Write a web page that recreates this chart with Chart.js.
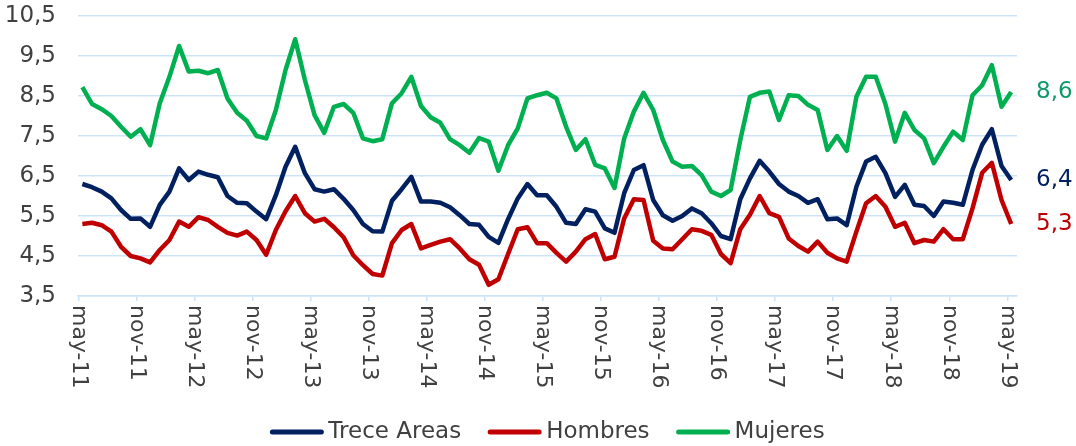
<!DOCTYPE html>
<html>
<head>
<meta charset="utf-8">
<script src="https://cdn.jsdelivr.net/npm/chart.js@4.4.1/dist/chart.umd.min.js"></script>
<style>
  html, body { margin: 0; padding: 0; background: #fff; }
</style>
</head>
<body>
<canvas id="chart" width="1076" height="446"></canvas>
<script>
// tasa de desempleo mensual, may-11 a may-19
var tickLabels = ["may-11", "nov-11", "may-12", "nov-12", "may-13", "nov-13", "may-14", "nov-14",
  "may-15", "nov-15", "may-16", "nov-16", "may-17", "nov-17", "may-18", "nov-18", "may-19"];

var treceAreas = [
  6.30, 6.22, 6.11, 5.94, 5.65, 5.43, 5.44, 5.23, 5.78, 6.11, 6.69, 6.40, 6.61,
  6.53, 6.47, 6.00, 5.83, 5.82, 5.61, 5.42, 6.02, 6.73, 7.23, 6.57, 6.17, 6.11, 6.17, 5.93,
  5.65, 5.30, 5.12, 5.11, 5.88, 6.17, 6.48, 5.86, 5.86, 5.83, 5.72, 5.52, 5.30, 5.28,
  4.98, 4.83, 5.42, 5.94, 6.30, 6.02, 6.02, 5.73, 5.33, 5.30, 5.67, 5.61, 5.19, 5.08,
  6.07, 6.65, 6.77, 5.90, 5.52, 5.38, 5.50, 5.69, 5.57, 5.32, 5.00, 4.92, 5.92,
  6.44, 6.88, 6.61, 6.30, 6.11, 6.00, 5.83, 5.92, 5.42, 5.44, 5.27, 6.23, 6.86, 6.98,
  6.57, 5.98, 6.28, 5.78, 5.75, 5.50, 5.86, 5.83, 5.78, 6.65, 7.28, 7.67, 6.75, 6.40
];
var hombres = [
  5.30, 5.33, 5.27, 5.11, 4.73, 4.50, 4.44, 4.34, 4.65, 4.90, 5.36, 5.23, 5.47,
  5.40, 5.23, 5.08, 5.01, 5.11, 4.90, 4.53, 5.15, 5.62, 6.00, 5.57, 5.36, 5.43, 5.22, 4.97,
  4.52, 4.27, 4.05, 4.01, 4.82, 5.15, 5.30, 4.69, 4.78, 4.86, 4.92, 4.69, 4.42, 4.28,
  3.78, 3.92, 4.55, 5.17, 5.22, 4.82, 4.82, 4.58, 4.36, 4.61, 4.92, 5.05, 4.42, 4.48,
  5.44, 5.92, 5.90, 4.88, 4.69, 4.67, 4.92, 5.17, 5.13, 5.03, 4.55, 4.32, 5.17,
  5.53, 6.00, 5.57, 5.48, 4.94, 4.75, 4.61, 4.86, 4.58, 4.44, 4.36, 5.11, 5.82, 6.00,
  5.73, 5.23, 5.33, 4.82, 4.90, 4.86, 5.17, 4.92, 4.92, 5.69, 6.58, 6.83, 5.90, 5.30
];
var mujeres = [
  8.72, 8.30, 8.17, 8.00, 7.73, 7.48, 7.67, 7.27, 8.32, 8.98, 9.75, 9.11, 9.13,
  9.07, 9.15, 8.44, 8.08, 7.88, 7.50, 7.44, 8.15, 9.15, 9.92, 8.90, 8.02, 7.58, 8.23, 8.30,
  8.08, 7.44, 7.37, 7.42, 8.32, 8.57, 8.98, 8.25, 7.97, 7.83, 7.42, 7.27, 7.08, 7.45,
  7.36, 6.63, 7.27, 7.69, 8.44, 8.52, 8.58, 8.44, 7.73, 7.15, 7.42, 6.78, 6.69, 6.20,
  7.44, 8.11, 8.58, 8.15, 7.40, 6.86, 6.73, 6.75, 6.52, 6.11, 6.00, 6.15, 7.40,
  8.48, 8.58, 8.61, 7.90, 8.52, 8.50, 8.28, 8.15, 7.15, 7.50, 7.13, 8.48, 8.98, 8.98,
  8.30, 7.36, 8.08, 7.65, 7.44, 6.82, 7.23, 7.61, 7.40, 8.52, 8.77, 9.27, 8.23, 8.60
];

var NAVY = "#002060", RED = "#C00000", GREEN = "#00B050";
var endColors = [NAVY, RED, "#0F9A6C"];
var GRID = "#CDE4F8";
var TEXT = "#404040";
var FONT = '"DejaVu Sans", sans-serif';

function pts(arr) {
  return arr.map(function (v, i) { return { x: i, y: v }; });
}
function coma(v) {
  return v.toFixed(1).replace(".", ",");
}

// etiquetas rotadas del eje x, valores finales y leyenda
var extras = {
  id: "extras",
  afterDraw: function (chart) {
    var ctx = chart.ctx, xs = chart.scales.x, a = chart.chartArea;
    ctx.save();
    ctx.font = "22px " + FONT;
    ctx.fillStyle = TEXT;
    ctx.textAlign = "left";
    ctx.textBaseline = "middle";
    xs.ticks.forEach(function (t, k) {
      var px = xs.getPixelForValue(t.value);
      ctx.save();
      ctx.translate(px, a.bottom + 9);
      ctx.rotate(Math.PI / 2);
      ctx.fillText(tickLabels[k], 0, 0);
      ctx.restore();
    });

    ctx.font = "23px " + FONT;
    chart.data.datasets.forEach(function (ds, d) {
      var meta = chart.getDatasetMeta(d);
      var last = meta.data[meta.data.length - 1];
      ctx.fillStyle = endColors[d];
      ctx.fillText(coma(ds.data[ds.data.length - 1].y), a.right + 19, last.y);
    });

    // leyenda
    ctx.font = "23px " + FONT;
    var sw = 53, gap = 5, sep = 27;
    var items = chart.data.datasets.map(function (ds) {
      return { text: ds.label, color: ds.borderColor, w: sw + gap + ctx.measureText(ds.label).width };
    });
    var total = items.reduce(function (s, it) { return s + it.w; }, 0) + sep * (items.length - 1);
    var x = (a.left + a.right) / 2 - total / 2, y = 432;
    items.forEach(function (it) {
      ctx.beginPath();
      ctx.lineCap = "round";
      ctx.strokeStyle = it.color;
      ctx.lineWidth = 5;
      ctx.moveTo(x + 2, y);
      ctx.lineTo(x + sw - 2, y);
      ctx.stroke();
      ctx.fillStyle = TEXT;
      ctx.fillText(it.text, x + sw + gap, y);
      x += it.w + sep;
    });
    ctx.restore();
  }
};

var lineStyle = {
  borderWidth: 4.5,
  pointRadius: 0,
  pointHoverRadius: 0,
  tension: 0,
  borderJoinStyle: "round",
  fill: false
};

new Chart(document.getElementById("chart"), {
  type: "line",
  data: {
    datasets: [
      Object.assign({ label: "Trece Areas", data: pts(treceAreas), borderColor: NAVY, backgroundColor: NAVY }, lineStyle),
      Object.assign({ label: "Hombres", data: pts(hombres), borderColor: RED, backgroundColor: RED }, lineStyle),
      Object.assign({ label: "Mujeres", data: pts(mujeres), borderColor: GREEN, backgroundColor: GREEN }, lineStyle)
    ]
  },
  options: {
    responsive: false,
    animation: false,
    devicePixelRatio: 1,
    layout: { autoPadding: false, padding: { left: 0, right: 59, top: 16, bottom: 0 } },
    plugins: {
      legend: { display: false },
      title: { display: false },
      tooltip: { enabled: false }
    },
    scales: {
      x: {
        type: "linear",
        min: -0.45,
        max: 96.6,
        afterBuildTicks: function (scale) {
          scale.ticks = tickLabels.map(function (_, k) { return { value: k * 6 - 0.4 }; });
        },
        afterFit: function (scale) {
          scale.height = 150;
          scale.paddingLeft = scale.paddingRight = 0;
        },
        ticks: { display: false },
        grid: { drawOnChartArea: false, drawTicks: true, tickLength: 5, color: GRID, lineWidth: 1.5 },
        border: { display: true, color: GRID, width: 1.5 }
      },
      y: {
        min: 3.5,
        max: 10.5,
        afterBuildTicks: function (scale) {
          var t = [];
          for (var v = 3.5; v <= 10.5 + 1e-9; v += 1) t.push({ value: v });
          scale.ticks = t;
        },
        afterFit: function (scale) {
          scale.width = 78;
          scale.paddingTop = scale.paddingBottom = 0;
        },
        ticks: {
          padding: 22,
          color: TEXT,
          font: { family: FONT, size: 23 },
          callback: function (v) { return coma(v); }
        },
        grid: { drawTicks: false, color: GRID, lineWidth: 1.5 },
        border: { display: false }
      }
    }
  },
  plugins: [extras]
});
</script>
</body>
</html>
